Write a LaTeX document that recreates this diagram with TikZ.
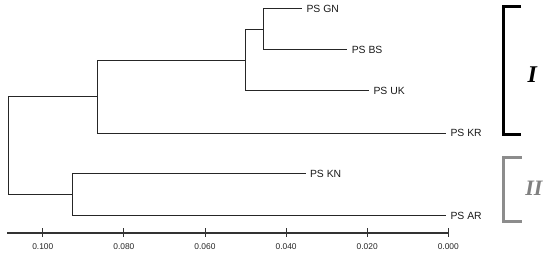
\documentclass[tikz,border=0pt]{standalone}
\usepackage{fontspec}
\setmainfont{Liberation Sans}
\newfontfamily\romfont{Liberation Serif}
\begin{document}
\begin{tikzpicture}[x=1pt,y=-1pt]
\tikzset{
  branch/.style={line width=1pt, draw=black!85},
  leaf/.style={anchor=west, inner xsep=4.5pt, inner ysep=0pt, outer sep=0pt, font=\fontsize{10.4}{12}\selectfont, text=black!90},
  axisline/.style={line width=1.2pt, draw=black!80},
  ticklab/.style={inner sep=0pt, font=\fontsize{8.4}{10}\selectfont, text=black!85},
  bracketI/.style={line width=3pt, draw=black},
  bracketII/.style={line width=3pt, draw=black!45},
  clusterlab/.style={inner sep=0pt, font=\romfont\bfseries\itshape\fontsize{24}{28}\selectfont},
}
\useasboundingbox (0,0) rectangle (550,256);
% internal nodes
\coordinate (n1) at (263.5,29.5);
\coordinate (n2) at (245.7,60.3);
\coordinate (n3) at (97.7,96.7);
\coordinate (n4) at (72.7,194.8);
\coordinate (root) at (8,145.7);
% leaves
\node[leaf] (GN) at (302,9) {PS GN};
\node[leaf] (BS) at (347.3,50) {PS BS};
\node[leaf] (UK) at (369,91) {PS UK};
\node[leaf] (KR) at (446,133.3) {PS KR};
\node[leaf] (KN) at (305.5,174) {PS KN};
\node[leaf] (AR) at (446,215.7) {PS AR};
% branches
\draw[branch] (n1) |- (GN.west);
\draw[branch] (n1) |- (BS.west);
\draw[branch] (n2) |- (n1);
\draw[branch] (n2) |- (UK.west);
\draw[branch] (n3) |- (n2);
\draw[branch] (n3) |- (KR.west);
\draw[branch] (root) |- (n3);
\draw[branch] (root) |- (n4);
\draw[branch] (n4) |- (KN.west);
\draw[branch] (n4) |- (AR.west);
% axis
\coordinate (ax0) at (7,233);
\coordinate (ax1) at (448.3,233);
\draw[axisline] (ax0) -- (ax1);
\foreach \k/\lab in {0/0.000,1/0.020,2/0.040,3/0.060,4/0.080,5/0.100}{
  \draw[axisline, line width=1pt] ({448.3-81.1*\k},228.5) -- ({448.3-81.1*\k},237.5);
  \node[ticklab] (tick\k) at ({448.3-81.1*\k},247) {\lab};
}
% brackets
\draw[bracketI] (521,7) -- (503.5,7) -- (503.5,135) -- (521,135);
\node[clusterlab] (cI) at (532.3,75) {I};
\draw[bracketII] (521.5,158) -- (503.5,158) -- (503.5,222) -- (521.5,222);
\node[clusterlab, text=black!50, font=\romfont\bfseries\itshape\fontsize{22}{26}\selectfont] (cII) at (534,188) {II};
\end{tikzpicture}
\end{document}
